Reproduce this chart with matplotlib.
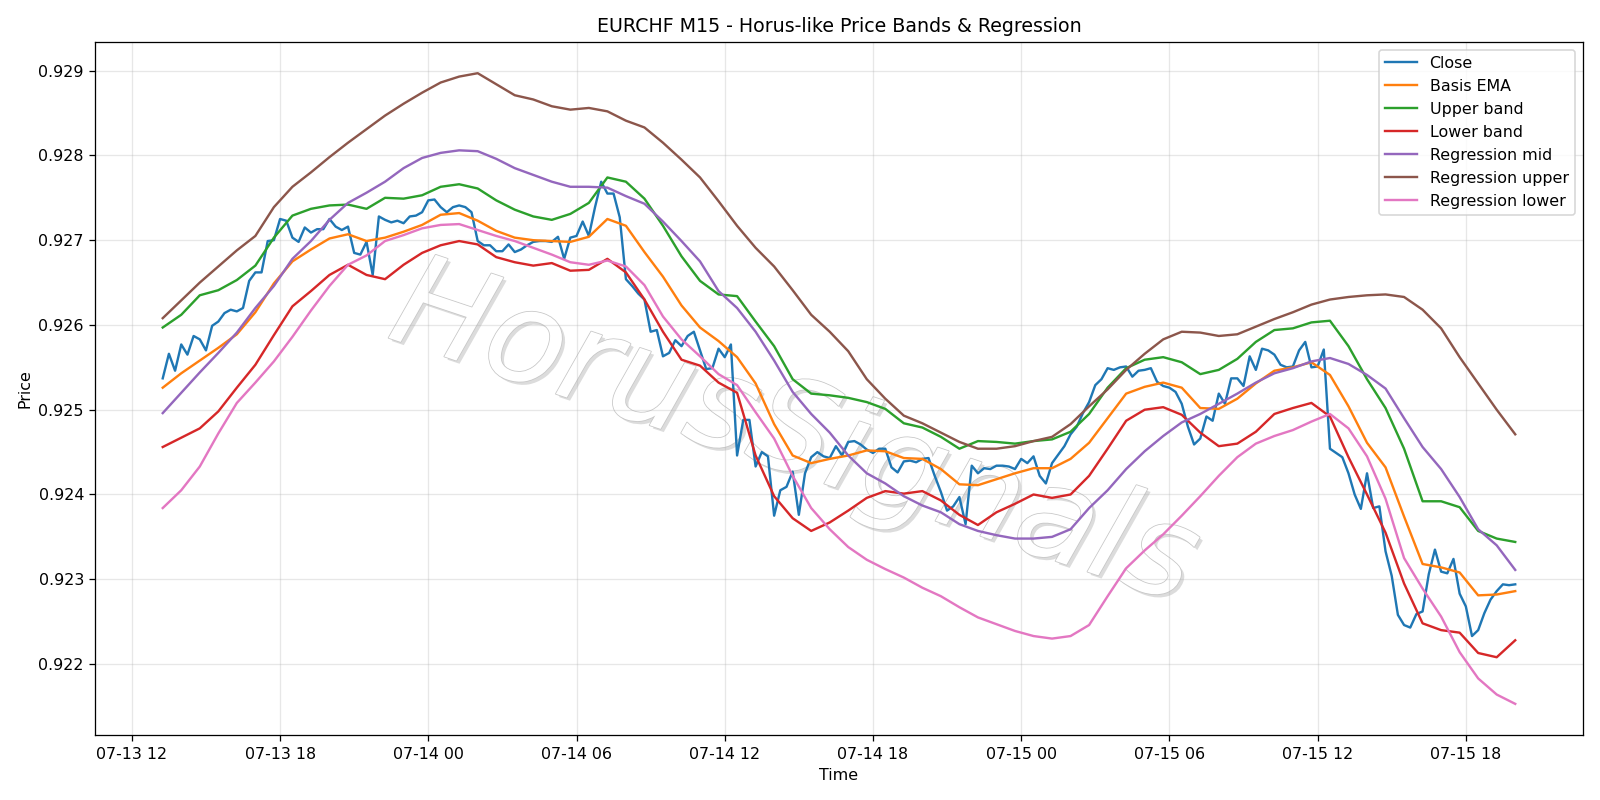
import pandas as pd
import matplotlib
matplotlib.use("Agg")
import matplotlib.pyplot as plt
import matplotlib.dates as mdates
import matplotlib.patheffects as pe

# EURCHF M15 close, 15-minute bars
close = [
    0.92537, 0.92566, 0.92546, 0.92577, 0.92565, 0.92587, 0.92583, 0.92570, 0.92599, 0.92604,
    0.92614, 0.92618, 0.92616, 0.92620, 0.92652, 0.92662, 0.92662, 0.92699, 0.92700, 0.92725,
    0.92723, 0.92703, 0.92698, 0.92715, 0.92709, 0.92713, 0.92713, 0.92725, 0.92716, 0.92712,
    0.92716, 0.92685, 0.92683, 0.92698, 0.92659, 0.92728, 0.92724, 0.92721, 0.92723, 0.92720,
    0.92728, 0.92729, 0.92733, 0.92747, 0.92748, 0.92739, 0.92733, 0.92739, 0.92741, 0.92739,
    0.92733, 0.92699, 0.92694, 0.92694, 0.92687, 0.92687, 0.92695, 0.92686, 0.92689, 0.92694,
    0.92698, 0.92699, 0.92699, 0.92698, 0.92704, 0.92678, 0.92703, 0.92705, 0.92722, 0.92705,
    0.92739, 0.92769, 0.92755, 0.92755, 0.92727, 0.92654, 0.92646, 0.92637, 0.92630, 0.92592,
    0.92594, 0.92563, 0.92567, 0.92582, 0.92575, 0.92587, 0.92592, 0.92570, 0.92548, 0.92549,
    0.92572, 0.92562, 0.92577, 0.92446, 0.92488, 0.92488, 0.92433, 0.92450, 0.92445, 0.92375,
    0.92405, 0.92409, 0.92427, 0.92376, 0.92425, 0.92444, 0.92450, 0.92445, 0.92443, 0.92457,
    0.92446, 0.92462, 0.92463, 0.92459, 0.92453, 0.92449, 0.92454, 0.92454, 0.92432, 0.92426,
    0.92439, 0.92440, 0.92438, 0.92442, 0.92443, 0.92422, 0.92403, 0.92381, 0.92386, 0.92397,
    0.92365, 0.92434, 0.92425, 0.92431, 0.92430, 0.92434, 0.92434, 0.92433, 0.92430, 0.92442,
    0.92437, 0.92445, 0.92422, 0.92413, 0.92437, 0.92447, 0.92457, 0.92471, 0.92480, 0.92496,
    0.92509, 0.92529, 0.92536, 0.92549, 0.92547, 0.92550, 0.92551, 0.92539, 0.92546, 0.92547,
    0.92549, 0.92533, 0.92528, 0.92526, 0.92521, 0.92507, 0.92480, 0.92459, 0.92466, 0.92492,
    0.92487, 0.92519, 0.92507, 0.92537, 0.92537, 0.92528, 0.92563, 0.92547, 0.92572, 0.92570,
    0.92565, 0.92553, 0.92550, 0.92551, 0.92570, 0.92580, 0.92550, 0.92551, 0.92571, 0.92454,
    0.92449, 0.92444, 0.92425, 0.92400, 0.92383, 0.92425, 0.92384, 0.92386, 0.92333, 0.92304,
    0.92258, 0.92246, 0.92243, 0.92259, 0.92262, 0.92306, 0.92335, 0.92309, 0.92307, 0.92324,
    0.92283, 0.92268, 0.92233, 0.92240, 0.92260, 0.92276, 0.92286, 0.92294, 0.92293, 0.92294,
]

# indicator lines, read every 45 minutes
basis_ema = [
    0.92526, 0.92543, 0.92558, 0.92573, 0.92589, 0.92615, 0.92649, 0.92675, 0.92689, 0.92702,
    0.92707, 0.92699, 0.92703, 0.92710, 0.92718, 0.92730, 0.92732, 0.92723, 0.92711, 0.92703,
    0.92700, 0.92699, 0.92698, 0.92704, 0.92725, 0.92717, 0.92686, 0.92657, 0.92623, 0.92597,
    0.92581, 0.92562, 0.92531, 0.92483, 0.92446, 0.92437, 0.92442, 0.92446, 0.92452, 0.92451,
    0.92443, 0.92442, 0.92430, 0.92412, 0.92411, 0.92418, 0.92425, 0.92431, 0.92431, 0.92442,
    0.92461, 0.92490, 0.92519, 0.92527, 0.92532, 0.92526, 0.92502, 0.92501, 0.92513, 0.92531,
    0.92546, 0.92550, 0.92556, 0.92541, 0.92504, 0.92461, 0.92432, 0.92374, 0.92318, 0.92314,
    0.92308, 0.92281, 0.92282, 0.92286,
]
upper_band = [
    0.92597, 0.92612, 0.92635, 0.92641, 0.92653, 0.92670, 0.92703, 0.92729, 0.92737, 0.92741,
    0.92742, 0.92737, 0.92750, 0.92749, 0.92753, 0.92763, 0.92766, 0.92761, 0.92747, 0.92736,
    0.92728, 0.92724, 0.92731, 0.92744, 0.92774, 0.92769, 0.92749, 0.92717, 0.92681, 0.92652,
    0.92636, 0.92634, 0.92604, 0.92575, 0.92536, 0.92519, 0.92517, 0.92514, 0.92509, 0.92501,
    0.92484, 0.92479, 0.92468, 0.92454, 0.92463, 0.92462, 0.92460, 0.92463, 0.92465, 0.92474,
    0.92495, 0.92526, 0.92549, 0.92559, 0.92562, 0.92556, 0.92542, 0.92547, 0.92560, 0.92580,
    0.92594, 0.92596, 0.92603, 0.92605, 0.92575, 0.92536, 0.92502, 0.92454, 0.92392, 0.92392,
    0.92385, 0.92357, 0.92348, 0.92344,
]
lower_band = [
    0.92456, 0.92467, 0.92478, 0.92498, 0.92526, 0.92553, 0.92588, 0.92622, 0.92640, 0.92659,
    0.92671, 0.92659, 0.92654, 0.92671, 0.92685, 0.92694, 0.92699, 0.92695, 0.92680, 0.92674,
    0.92670, 0.92673, 0.92664, 0.92665, 0.92678, 0.92662, 0.92630, 0.92592, 0.92559, 0.92552,
    0.92532, 0.92520, 0.92446, 0.92398, 0.92372, 0.92357, 0.92367, 0.92381, 0.92396, 0.92404,
    0.92401, 0.92404, 0.92393, 0.92376, 0.92364, 0.92379, 0.92389, 0.92400, 0.92396, 0.92400,
    0.92422, 0.92454, 0.92487, 0.92500, 0.92503, 0.92494, 0.92473, 0.92457, 0.92460, 0.92474,
    0.92495, 0.92502, 0.92508, 0.92492, 0.92444, 0.92400, 0.92355, 0.92295, 0.92248, 0.92240,
    0.92237, 0.92213, 0.92208, 0.92228,
]
reg_mid = [
    0.92496, 0.92520, 0.92544, 0.92567, 0.92591, 0.92620, 0.92646, 0.92678, 0.92699, 0.92724,
    0.92744, 0.92756, 0.92769, 0.92785, 0.92797, 0.92803, 0.92806, 0.92805, 0.92796, 0.92785,
    0.92777, 0.92769, 0.92763, 0.92763, 0.92762, 0.92752, 0.92743, 0.92722, 0.92699, 0.92675,
    0.92640, 0.92620, 0.92592, 0.92558, 0.92521, 0.92495, 0.92473, 0.92446, 0.92425, 0.92413,
    0.92398, 0.92387, 0.92379, 0.92365, 0.92357, 0.92352, 0.92348, 0.92348, 0.92350, 0.92359,
    0.92384, 0.92405, 0.92430, 0.92451, 0.92469, 0.92485, 0.92495, 0.92507, 0.92519, 0.92532,
    0.92543, 0.92549, 0.92557, 0.92561, 0.92554, 0.92541, 0.92525, 0.92490, 0.92456, 0.92430,
    0.92397, 0.92359, 0.92340, 0.92311,
]
reg_upper = [
    0.92608, 0.92629, 0.92650, 0.92669, 0.92688, 0.92705, 0.92739, 0.92763, 0.92780, 0.92798,
    0.92815, 0.92831, 0.92847, 0.92861, 0.92874, 0.92886, 0.92893, 0.92897, 0.92884, 0.92871,
    0.92866, 0.92858, 0.92854, 0.92856, 0.92852, 0.92841, 0.92833, 0.92815, 0.92795, 0.92774,
    0.92746, 0.92717, 0.92691, 0.92669, 0.92641, 0.92612, 0.92592, 0.92569, 0.92536, 0.92513,
    0.92493, 0.92484, 0.92473, 0.92462, 0.92454, 0.92454, 0.92457, 0.92463, 0.92468, 0.92483,
    0.92504, 0.92524, 0.92547, 0.92566, 0.92583, 0.92592, 0.92591, 0.92587, 0.92589, 0.92598,
    0.92607, 0.92615, 0.92624, 0.92630, 0.92633, 0.92635, 0.92636, 0.92633, 0.92618, 0.92596,
    0.92562, 0.92531, 0.92500, 0.92471,
]
reg_lower = [
    0.92384, 0.92405, 0.92433, 0.92472, 0.92508, 0.92532, 0.92557, 0.92586, 0.92617, 0.92646,
    0.92671, 0.92682, 0.92699, 0.92706, 0.92714, 0.92718, 0.92719, 0.92712, 0.92705, 0.92699,
    0.92691, 0.92683, 0.92674, 0.92671, 0.92676, 0.92669, 0.92647, 0.92610, 0.92583, 0.92563,
    0.92542, 0.92529, 0.92497, 0.92466, 0.92422, 0.92384, 0.92359, 0.92338, 0.92323, 0.92312,
    0.92302, 0.92290, 0.92280, 0.92267, 0.92255, 0.92247, 0.92239, 0.92233, 0.92230, 0.92233,
    0.92246, 0.92280, 0.92313, 0.92334, 0.92353, 0.92375, 0.92398, 0.92422, 0.92444, 0.92460,
    0.92469, 0.92476, 0.92486, 0.92495, 0.92478, 0.92445, 0.92395, 0.92325, 0.92289, 0.92256,
    0.92214, 0.92183, 0.92164, 0.92153,
]

t_close = pd.date_range("2022-07-13 13:15", periods=len(close), freq="15min")
t_band = pd.date_range("2022-07-13 13:15", periods=len(basis_ema), freq="45min")

fig, ax = plt.subplots(figsize=(14, 7), dpi=1600 / 14)

ax.plot(t_close, close, label="Close", lw=1.5)
ax.plot(t_band, basis_ema, label="Basis EMA", lw=1.5)
ax.plot(t_band, upper_band, label="Upper band", lw=1.5)
ax.plot(t_band, lower_band, label="Lower band", lw=1.5)
ax.plot(t_band, reg_mid, label="Regression mid", lw=1.5)
ax.plot(t_band, reg_upper, label="Regression upper", lw=1.5)
ax.plot(t_band, reg_lower, label="Regression lower", lw=1.5)

# watermark
ax.text(0.47, 0.432, "HorusSignals", transform=ax.transAxes, fontsize=81,
        style="italic", color="white", rotation=-18.5, ha="center", va="center",
        zorder=1,
        path_effects=[pe.SimplePatchShadow(offset=(2, -2), shadow_rgbFace="0.55", alpha=0.3),
                      pe.Stroke(linewidth=1.0, foreground="0.78"),
                      pe.Normal()])

ax.xaxis.set_major_locator(mdates.HourLocator(byhour=[0, 6, 12, 18]))
ax.xaxis.set_major_formatter(mdates.DateFormatter("%m-%d %H"))
ax.grid(True, alpha=0.3)
ax.set_title("EURCHF M15 - Horus-like Price Bands & Regression")
ax.set_xlabel("Time")
ax.set_ylabel("Price")
ax.legend(loc="upper right")

plt.tight_layout()
plt.savefig("out.png", dpi=fig.dpi)
